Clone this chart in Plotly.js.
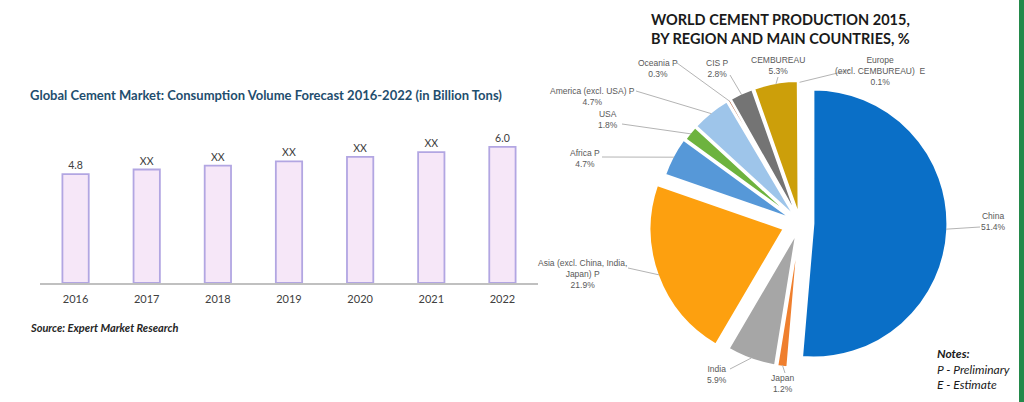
<!DOCTYPE html>
<html>
<head>
<meta charset="utf-8">
<script src="https://cdn.plot.ly/plotly-3.0.1.min.js"></script>
<style>
  html, body { margin: 0; padding: 0; background: #ffffff; }
  #chart { width: 1024px; height: 402px; }
</style>
</head>
<body>
<div id="chart"></div>
<script>
// ---------- data ----------
const years = ['2016', '2017', '2018', '2019', '2020', '2021', '2022'];
const volumes = [4.8, 5.0, 5.17, 5.36, 5.56, 5.77, 6.0];
const volumeLabels = ['4.8', 'XX', 'XX', 'XX', 'XX', 'XX', '6.0'];

const regionNames = ['China', 'Japan', 'India', 'Asia (excl. China, India, Japan) P', 'Africa P', 'USA',
  'America (excl. USA) P', 'Oceania P', 'CIS P', 'CEMBUREAU', 'Europe (excl. CEMBUREAU) E'];
const regionLabelLines = ['China', 'Japan', 'India', 'Asia (excl. China, India,<br>Japan) P', 'Africa P', 'USA',
  'America (excl. USA) P', 'Oceania P', 'CIS P', 'CEMBUREAU', 'Europe<br>(excl. CEMBUREAU)  E'];
const regionShares = [51.4, 1.2, 5.9, 21.9, 4.7, 1.8, 4.7, 0.3, 2.8, 5.3, 0.1];

// ---------- styles ----------
const regionColors = ['#0a6fc7', '#ef7f2e', '#a6a6a6', '#fda00f', '#5698d8', '#6db33f',
  '#9ec5ea', '#a0431a', '#747474', '#cc9f0a', '#bfe0f3'];
const regionPull = [0.1, 0.08, 0.08, 0.13, 0.07, 0.06, 0.06, 0.06, 0.06, 0.06, 0.06];

const W = 1024, H = 402;
const pieCx = 800, pieCy = 223, pieR = 134;
const maxPull = Math.max(...regionPull);
const half = pieR * (1 + maxPull);
const pieDomain = {
  x: [(pieCx - half) / W, (pieCx + half) / W],
  y: [1 - (pieCy + half) / H, 1 - (pieCy - half) / H]
};

// label text centre and leader-line start (px)
const labelPos = [
  {tx: 993, ty: 221, lx: 980, ly: 227},
  {tx: 782, ty: 383, lx: 785, ly: 373},
  {tx: 717, ty: 374, lx: 730, ly: 369},
  {tx: 582, ty: 274, lx: 628, ly: 268},
  {tx: 585, ty: 158, lx: 602, ly: 157},
  {tx: 608, ty: 120, lx: 622, ly: 124},
  {tx: 592, ty: 96, lx: 636, ly: 91},
  {tx: 658, ty: 68, lx: 677, ly: 63},
  {tx: 717, ty: 68, lx: 730, ly: 75},
  {tx: 778, ty: 65, lx: 778, ly: 77},
  {tx: 880, ty: 71, lx: 850, ly: 70}
];

const px = v => v / W;
const py = v => 1 - v / H;

const annotations = [];
const shapes = [];

// pie labels with leader lines derived from slice geometry
const total = regionShares.reduce((a, b) => a + b, 0);
let cum = 0;
regionShares.forEach((v, i) => {
  const mid = (cum + v / 2) / total * 2 * Math.PI;
  cum += v;
  const rr = pieR * 0.99 + regionPull[i] * pieR;
  const tipX = pieCx + rr * Math.sin(mid);
  const tipY = pieCy - rr * Math.cos(mid);
  const p = labelPos[i];
  annotations.push({
    xref: 'paper', yref: 'paper', x: px(p.tx), y: py(p.ty),
    xanchor: 'center', yanchor: 'middle', showarrow: false, align: 'center',
    text: regionLabelLines[i] + '<br>' + v.toFixed(1) + '%',
    font: {family: 'Liberation Sans, Arial, sans-serif', size: 8.5, color: '#595959'}
  });
  shapes.push({
    type: 'line', xref: 'paper', yref: 'paper',
    x0: px(p.lx), y0: py(p.ly), x1: px(tipX), y1: py(tipY),
    line: {color: '#b4b4b4', width: 1}
  });
});

// titles and notes
annotations.push({
  xref: 'paper', yref: 'paper', x: px(28), y: py(95), xanchor: 'left', yanchor: 'middle',
  showarrow: false,
  text: '<b>Global Cement Market: Consumption Volume Forecast 2016-2022 (in Billion Tons)</b>',
  font: {family: 'Lato, sans-serif', size: 13, color: '#1f4e6e'}
});
annotations.push({
  xref: 'paper', yref: 'paper', x: px(28), y: py(327), xanchor: 'left', yanchor: 'middle',
  showarrow: false,
  text: '<b><i>Source: Expert Market Research</i></b>',
  font: {family: 'Lato, sans-serif', size: 11, color: '#262626'}
});
annotations.push({
  xref: 'paper', yref: 'paper', x: px(780), y: py(29), xanchor: 'center', yanchor: 'middle',
  showarrow: false, align: 'center',
  text: '<b>WORLD CEMENT PRODUCTION 2015,<br>BY REGION AND MAIN COUNTRIES, %</b>',
  font: {family: 'Lato, sans-serif', size: 14.5, color: '#1a1a1a'}
});
annotations.push({
  xref: 'paper', yref: 'paper', x: px(935), y: py(369), xanchor: 'left', yanchor: 'middle',
  showarrow: false, align: 'left',
  text: '<b><i>Notes:</i></b><br><i>P - Preliminary</i><br><i>E - Estimate</i>',
  font: {family: 'Lato, sans-serif', size: 12, color: '#1a1a1a'}
});

// right green border
shapes.push({
  type: 'rect', xref: 'paper', yref: 'paper', x0: px(1019), x1: 1, y0: 0, y1: 1,
  fillcolor: '#23894a', line: {width: 0}
});

const barTrace = {
  type: 'bar', x: years, y: volumes, text: volumeLabels,
  textposition: 'outside', cliponaxis: false, width: 0.37,
  textfont: {family: 'Lato, sans-serif', size: 10.5, color: '#404040'},
  marker: {color: '#f6e7f8', line: {color: '#b2a6e2', width: 1.8}},
  hoverinfo: 'skip', xaxis: 'x', yaxis: 'y'
};

const pieTrace = {
  type: 'pie', labels: regionNames, values: regionShares, sort: false,
  direction: 'clockwise', rotation: 0, pull: regionPull,
  marker: {colors: regionColors, line: {color: '#ffffff', width: 2}},
  textinfo: 'none', hoverinfo: 'skip', showlegend: false,
  domain: pieDomain
};

const layout = {
  width: W, height: H,
  margin: {l: 0, r: 0, t: 0, b: 0},
  paper_bgcolor: '#ffffff', plot_bgcolor: '#ffffff',
  showlegend: false,
  xaxis: {
    domain: [40 / W, 538 / W], type: 'category', range: [-0.5, 6.5],
    showline: true, linecolor: '#c0c0c0', linewidth: 1.5, ticks: '',
    showgrid: false, zeroline: false, ticklabelstandoff: 5,
    tickfont: {family: 'Lato, sans-serif', size: 11, color: '#404040'}
  },
  yaxis: {
    domain: [1 - 283 / H, 1 - 140 / H], range: [0, 6.3],
    visible: false, showgrid: false, zeroline: false
  },
  annotations: annotations,
  shapes: shapes
};

Plotly.newPlot('chart', [barTrace, pieTrace], layout, {displayModeBar: false, staticPlot: true});
</script>
</body>
</html>
